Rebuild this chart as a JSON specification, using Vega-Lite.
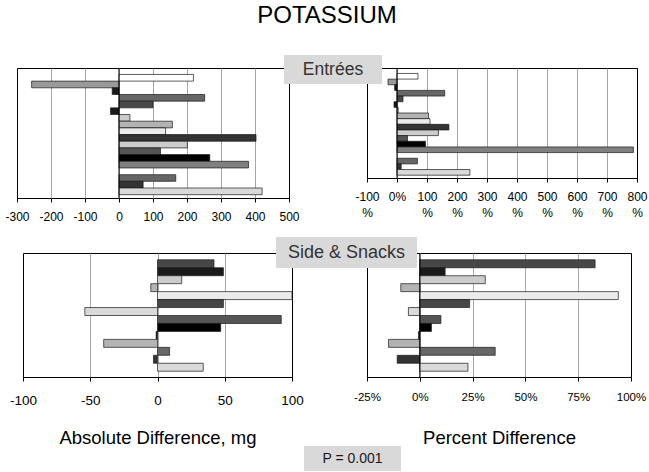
{
  "$schema": "https://vega.github.io/schema/vega-lite/v6.json",
  "autosize": {"type": "none"},
  "padding": {"left": 17, "top": 0, "right": 632, "bottom": 472},
  "background": "white",
  "datasets": {
    "entrees": [
      {"item": 1, "abs": 219, "pct": 70, "shade": "a"},
      {"item": 2, "abs": -257, "pct": -30, "shade": "b"},
      {"item": 3, "abs": -20, "pct": -8, "shade": "c"},
      {"item": 4, "abs": 252, "pct": 159, "shade": "d"},
      {"item": 5, "abs": 100, "pct": 20, "shade": "e"},
      {"item": 6, "abs": -25, "pct": -10, "shade": "c"},
      {"item": 7, "abs": 32, "pct": 4, "shade": "f"},
      {"item": 8, "abs": 157, "pct": 105, "shade": "g"},
      {"item": 9, "abs": 137, "pct": 110, "shade": "h"},
      {"item": 10, "abs": 403, "pct": 173, "shade": "i"},
      {"item": 11, "abs": 201, "pct": 138, "shade": "f"},
      {"item": 12, "abs": 122, "pct": 35, "shade": "j"},
      {"item": 13, "abs": 267, "pct": 95, "shade": "k"},
      {"item": 14, "abs": 381, "pct": 788, "shade": "l"},
      {"item": 16, "abs": 167, "pct": 68, "shade": "d"},
      {"item": 17, "abs": 71, "pct": 14, "shade": "i"},
      {"item": 18, "abs": 421, "pct": 243, "shade": "m"}
    ],
    "sides": [
      {"item": 1, "abs": 42, "pct": 83, "shade": "e"},
      {"item": 2, "abs": 49, "pct": 12, "shade": "c"},
      {"item": 3, "abs": 18, "pct": 31, "shade": "f"},
      {"item": 4, "abs": -5, "pct": -9, "shade": "g"},
      {"item": 5, "abs": 100, "pct": 94, "shade": "h"},
      {"item": 6, "abs": 49, "pct": 23.6, "shade": "e"},
      {"item": 7, "abs": -54, "pct": -5.4, "shade": "m"},
      {"item": 8, "abs": 92, "pct": 10, "shade": "j"},
      {"item": 9, "abs": 47, "pct": 5.5, "shade": "k"},
      {"item": 10, "abs": -1, "pct": -0.6, "shade": "k"},
      {"item": 11, "abs": -40, "pct": -14.8, "shade": "g"},
      {"item": 12, "abs": 9, "pct": 35.7, "shade": "d"},
      {"item": 13, "abs": -3, "pct": -10.7, "shade": "i"},
      {"item": 14, "abs": 34, "pct": 22.8, "shade": "m"}
    ]
  },
  "columns": 6,
  "spacing": {"row": -300, "column": -700},
  "align": "none",
  "bounds": "flush",
  "concat": [
    {"width": 620, "height": 32, "data": {"values": [{"t": "POTASSIUM"}]}, "mark": {"type": "text", "fontSize": 24, "color": "black"}, "encoding": {"text": {"field": "t"}}},
    {"width": 1044, "height": 368, "data": {"values": []}, "mark": "point"},
    {"width": 617, "height": 368, "data": {"values": []}, "mark": "point"},
    {"width": 692, "height": 368, "data": {"values": []}, "mark": "point"},
    {"width": 728, "height": 368, "data": {"values": []}, "mark": "point"},
    {"width": 97, "height": 368, "data": {"values": []}, "mark": "point"},

    {
      "width": 272, "height": 130,
      "view": {"stroke": "black", "strokeWidth": 1},
      "layer": [
        {
          "data": {"name": "entrees"},
          "mark": {"type": "bar", "stroke": "#1a1a1a", "strokeWidth": 0.7},
          "encoding": {
            "y": {"field": "item", "type": "ordinal", "scale": {"domain": [1,2,3,4,5,6,7,8,9,10,11,12,13,14,15,16,17,18], "paddingInner": 0, "paddingOuter": 0.73, "align": 0.66}, "axis": null},
            "x": {"field": "abs", "type": "quantitative", "scale": {"domain": [-300, 500], "nice": false, "zero": false},
                  "axis": {"values": [-300,-200,-100,0,100,200,300,400,500], "tickCount": 50, "title": null, "grid": true, "labelFontSize": 12, "labelPadding": 9,
                           "labelOverlap": false, "labelExpr": "datum.value + ''",
                           "gridOpacity": {"condition": {"test": "datum.value == -300 || datum.value == 500", "value": 0}, "value": 1}}},
            "color": {"field": "shade", "type": "nominal", "legend": null,
                      "scale": {"domain": ["a","b","c","d","e","f","g","h","i","j","k","l","m"], "range": ["#ffffff","#999999","#1a1a1a","#666666","#474747","#cccccc","#b3b3b3","#ebebeb","#333333","#555555","#000000","#808080","#d9d9d9"]}}
          }
        },
        {"data": {"values": [{}]}, "mark": {"type": "rule", "color": "black", "strokeWidth": 1}, "encoding": {"x": {"datum": 0}}}
      ]
    },
    {"width": 1044, "height": 287, "data": {"values": []}, "mark": "point"},
    {
      "width": 270, "height": 110,
      "view": {"stroke": "black", "strokeWidth": 1},
      "layer": [
        {
          "data": {"name": "entrees"},
          "mark": {"type": "bar", "stroke": "#1a1a1a", "strokeWidth": 0.7},
          "encoding": {
            "y": {"field": "item", "type": "ordinal", "scale": {"domain": [1,2,3,4,5,6,7,8,9,10,11,12,13,14,15,16,17,18], "paddingInner": 0, "paddingOuter": 0.73, "align": 0.66}, "axis": null},
            "x": {"field": "pct", "type": "quantitative", "scale": {"domain": [-100, 800], "nice": false, "zero": false},
                  "axis": {"values": [-100,0,100,200,300,400,500,600,700,800], "tickCount": 50, "title": null, "grid": true, "labelFontSize": 12, "labelPadding": 9, "labelLineHeight": 16,
                           "labelOverlap": false,
                           "labelExpr": "datum.value == 0 ? '0%' : [datum.value + '', '%']",
                           "gridOpacity": {"condition": {"test": "datum.value == -100 || datum.value == 800", "value": 0}, "value": 1}}},
            "color": {"field": "shade", "type": "nominal", "legend": null,
                      "scale": {"domain": ["a","b","c","d","e","f","g","h","i","j","k","l","m"], "range": ["#ffffff","#999999","#1a1a1a","#666666","#474747","#cccccc","#b3b3b3","#ebebeb","#333333","#555555","#000000","#808080","#d9d9d9"]}}
          }
        },
        {"data": {"values": [{}]}, "mark": {"type": "rule", "color": "black", "strokeWidth": 1}, "encoding": {"x": {"datum": 0}}}
      ]
    },
    {"width": 692, "height": 287, "data": {"values": []}, "mark": "point"},
    {"width": 728, "height": 287, "data": {"values": []}, "mark": "point"},
    {"width": 97, "height": 287, "data": {"values": []}, "mark": "point"},

    {"width": 706, "height": 498, "data": {"values": []}, "mark": "point"},
    {"width": 1044, "height": 498, "data": {"values": []}, "mark": "point"},
    {"width": 617, "height": 498, "data": {"values": []}, "mark": "point"},
    {"width": 98, "height": 29, "view": {"fill": "#d9d9d9", "stroke": null}, "data": {"values": [{"t": "Entrées"}]}, "mark": {"type": "text", "fontSize": 17.5, "color": "#333333"}, "encoding": {"text": {"field": "t"}}},
    {"width": 728, "height": 498, "data": {"values": []}, "mark": "point"},
    {"width": 97, "height": 498, "data": {"values": []}, "mark": "point"},

    {"width": 706, "height": 284, "data": {"values": []}, "mark": "point"},
    {
      "width": 269, "height": 124,
      "view": {"stroke": "black", "strokeWidth": 1},
      "layer": [
        {
          "data": {"name": "sides"},
          "mark": {"type": "bar", "stroke": "#1a1a1a", "strokeWidth": 0.7},
          "encoding": {
            "y": {"field": "item", "type": "ordinal", "scale": {"domain": [1,2,3,4,5,6,7,8,9,10,11,12,13,14], "paddingInner": 0, "paddingOuter": 0.79, "align": 0.54}, "axis": null},
            "x": {"field": "abs", "type": "quantitative", "scale": {"domain": [-100, 100], "nice": false, "zero": false},
                  "axis": {"values": [-100,-50,0,50,100], "tickCount": 50, "title": "Absolute Difference, mg", "titleFontSize": 18.5, "titlePadding": 22, "grid": true, "labelFontSize": 13.5, "labelPadding": 12,
                           "labelOverlap": false, "labelExpr": "datum.value + ''",
                           "gridOpacity": {"condition": {"test": "datum.value == -100 || datum.value == 100", "value": 0}, "value": 1}}},
            "color": {"field": "shade", "type": "nominal", "legend": null,
                      "scale": {"domain": ["a","b","c","d","e","f","g","h","i","j","k","l","m"], "range": ["#ffffff","#999999","#1a1a1a","#666666","#474747","#cccccc","#b3b3b3","#ebebeb","#333333","#555555","#000000","#808080","#d9d9d9"]}}
          }
        }
      ]
    },
    {
      "width": 264, "height": 124,
      "view": {"stroke": "black", "strokeWidth": 1},
      "layer": [
        {
          "data": {"name": "sides"},
          "mark": {"type": "bar", "stroke": "#1a1a1a", "strokeWidth": 0.7},
          "encoding": {
            "y": {"field": "item", "type": "ordinal", "scale": {"domain": [1,2,3,4,5,6,7,8,9,10,11,12,13,14], "paddingInner": 0, "paddingOuter": 0.79, "align": 0.54}, "axis": null},
            "x": {"field": "pct", "type": "quantitative", "scale": {"domain": [-25, 100], "nice": false, "zero": false},
                  "axis": {"values": [-25,0,25,50,75,100], "tickCount": 50, "title": "Percent Difference", "titleFontSize": 18.5, "titlePadding": 26, "grid": true, "labelFontSize": 11.5, "labelPadding": 10,
                           "labelOverlap": false, "labelExpr": "datum.value + '%'",
                           "gridOpacity": {"condition": {"test": "datum.value == -25 || datum.value == 100", "value": 0}, "value": 1}}},
            "color": {"field": "shade", "type": "nominal", "legend": null,
                      "scale": {"domain": ["a","b","c","d","e","f","g","h","i","j","k","l","m"], "range": ["#ffffff","#999999","#1a1a1a","#666666","#474747","#cccccc","#b3b3b3","#ebebeb","#333333","#555555","#000000","#808080","#d9d9d9"]}}
          }
        },
        {"data": {"values": [{}]}, "mark": {"type": "rule", "color": "black", "strokeWidth": 1}, "encoding": {"x": {"datum": 0}}}
      ]
    },
    {"width": 692, "height": 284, "data": {"values": []}, "mark": "point"},
    {"width": 728, "height": 284, "data": {"values": []}, "mark": "point"},
    {"width": 97, "height": 284, "data": {"values": []}, "mark": "point"},

    {"width": 706, "height": 509, "data": {"values": []}, "mark": "point"},
    {"width": 1044, "height": 509, "data": {"values": []}, "mark": "point"},
    {"width": 617, "height": 509, "data": {"values": []}, "mark": "point"},
    {"width": 692, "height": 509, "data": {"values": []}, "mark": "point"},
    {"width": 141, "height": 31, "view": {"fill": "#d9d9d9", "stroke": null}, "data": {"values": [{"t": "Side & Snacks"}]}, "mark": {"type": "text", "fontSize": 18, "color": "#333333"}, "encoding": {"text": {"field": "t"}}},
    {"width": 97, "height": 509, "data": {"values": []}, "mark": "point"},

    {"width": 706, "height": 25, "data": {"values": []}, "mark": "point"},
    {"width": 1044, "height": 25, "data": {"values": []}, "mark": "point"},
    {"width": 617, "height": 25, "data": {"values": []}, "mark": "point"},
    {"width": 692, "height": 25, "data": {"values": []}, "mark": "point"},
    {"width": 728, "height": 25, "data": {"values": []}, "mark": "point"},
    {"width": 97, "height": 25, "view": {"fill": "#d9d9d9", "stroke": null}, "data": {"values": [{"t": "P = 0.001"}]}, "mark": {"type": "text", "fontSize": 14, "color": "#1a1a1a"}, "encoding": {"text": {"field": "t"}}}
  ],
  "config": {
    "font": "Liberation Sans",
    "view": {"stroke": null},
    "axis": {
      "domain": false,
      "tickColor": "black",
      "tickSize": 4,
      "tickWidth": 1,
      "labelColor": "black",
      "labelFlush": false,
      "labelOverlap": false,
      "gridColor": "#a6a6a6",
      "gridWidth": 1,
      "titleColor": "black",
      "titleFontWeight": "normal"
    }
  }
}
